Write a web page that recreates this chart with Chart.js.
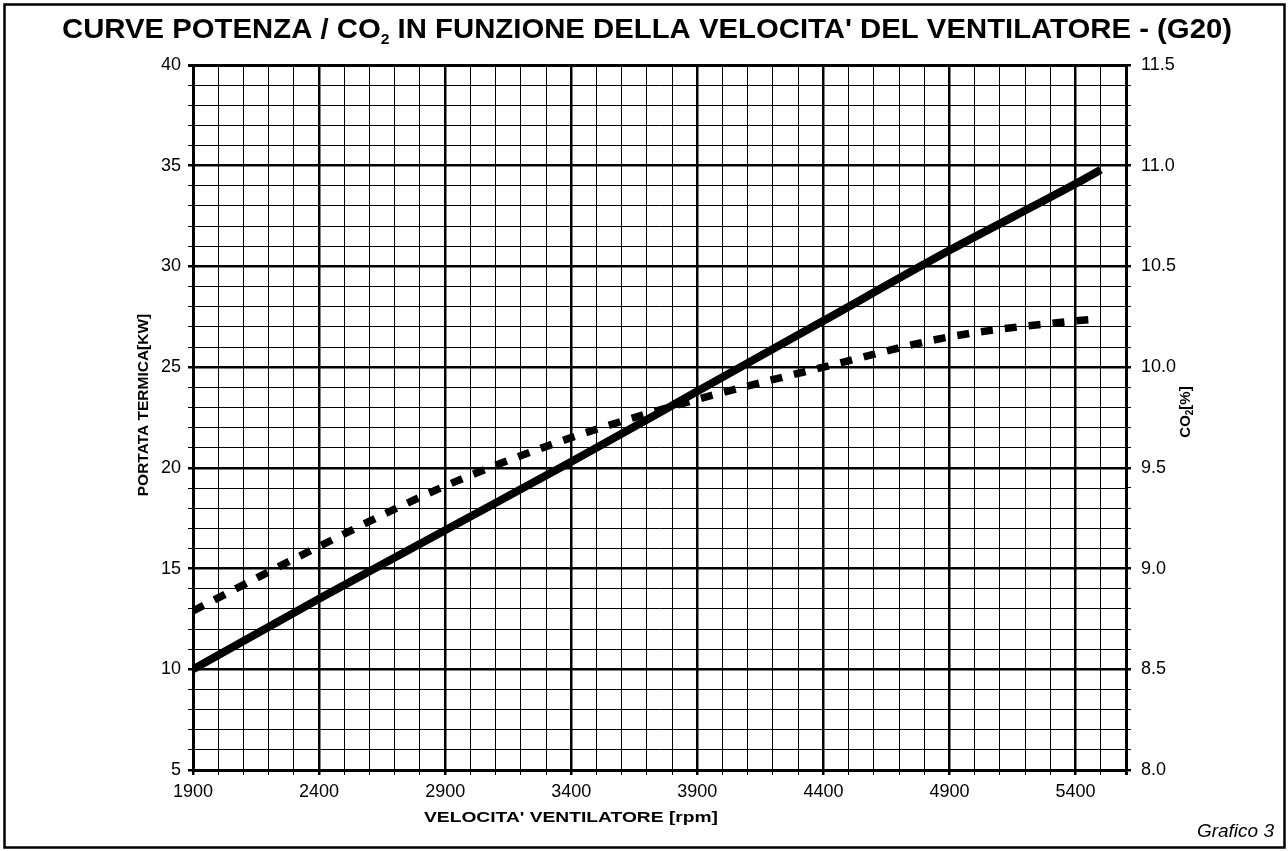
<!DOCTYPE html>
<html>
<head>
<meta charset="utf-8">
<script src="https://cdn.jsdelivr.net/npm/chart.js@4/dist/chart.umd.min.js"></script>
<style>
  html, body { margin: 0; padding: 0; background: #fff; }
  #wrap { width: 1288px; height: 851px; }
</style>
</head>
<body>
<div id="wrap"><canvas id="c" width="1288" height="851"></canvas></div>
<script>
// Fan speed (rpm) and the two measured curves
const rpm     = [1900, 2400, 2900, 3400, 3900, 4400, 4900, 5400, 5500];
const potenza = [10.0, 13.5, 16.9, 20.3, 23.8, 27.3, 30.8, 34.1, 34.8];   // kW
const co2     = [8.79, 9.11, 9.41, 9.65, 9.84, 10.00, 10.15, 10.23, 10.24]; // %

// Axis limits and labelled tick steps
const xRange   = [1900, 5600];
const xLabelEvery = 500;
const yRange   = [5, 40];
const yLabelEvery = 5;
const y2Range  = [8.0, 11.5];
const y2LabelEvery = 0.5;

const titleParts = ['CURVE POTENZA / CO', '2', " IN FUNZIONE DELLA VELOCITA' DEL VENTILATORE - (G20)"];
const xTitle  = "VELOCITA' VENTILATORE [rpm]";
const yTitle  = 'PORTATA TERMICA[KW]';
const y2Title = ['CO', '2', '[%]'];
const footer  = 'Grafico 3';

const FONT = "'Liberation Sans', Arial, Helvetica, sans-serif";

const isMultiple = (v, base, step) => Math.abs((v - base) / step - Math.round((v - base) / step)) < 1e-6;

const toXY = (ys) => rpm.map((x, i) => ({ x, y: ys[i] }));

// Text with a lowered subscript piece; draws left to right from x
function drawSubText(ctx, parts, x, y, size, subSize, subDrop) {
  let cx = x;
  parts.forEach((p, i) => {
    const sub = i % 2 === 1;
    ctx.font = 'bold ' + (sub ? subSize : size) + 'px ' + FONT;
    ctx.fillText(p, cx, sub ? y + subDrop : y);
    cx += ctx.measureText(p).width;
  });
  return cx - x;
}
function measureSubText(ctx, parts, size, subSize) {
  let w = 0;
  parts.forEach((p, i) => {
    ctx.font = 'bold ' + (i % 2 === 1 ? subSize : size) + 'px ' + FONT;
    w += ctx.measureText(p).width;
  });
  return w;
}

const decorations = {
  id: 'decorations',
  beforeDraw(chart) {
    const ctx = chart.ctx;
    ctx.save();
    ctx.fillStyle = '#fff';
    ctx.fillRect(0, 0, chart.width, chart.height);
    ctx.restore();
  },
  afterDraw(chart) {
    const ctx = chart.ctx;
    ctx.save();
    ctx.fillStyle = '#000';
    ctx.strokeStyle = '#000';

    // outer frame
    ctx.lineWidth = 2.5;
    ctx.strokeRect(4.5, 4.5, 1280, 843);

    // main title, condensed to its box
    const tSize = 28, tSub = 15;
    const tw = measureSubText(ctx, titleParts, tSize, tSub);
    const target = 1170;
    const sx = target / tw;
    ctx.save();
    ctx.translate(647 - target / 2, 38);
    ctx.scale(sx, 1);
    ctx.textBaseline = 'alphabetic';
    ctx.textAlign = 'left';
    drawSubText(ctx, titleParts, 0, 0, tSize, tSub, 6);
    ctx.restore();

    // x axis title, stretched to its box
    ctx.save();
    ctx.font = 'bold 15px ' + FONT;
    ctx.textAlign = 'center';
    ctx.textBaseline = 'middle';
    const xw = ctx.measureText(xTitle).width;
    ctx.translate(571, 818);
    ctx.scale(294 / xw, 1);
    ctx.fillText(xTitle, 0, 0);
    ctx.restore();

    // left axis title
    ctx.save();
    ctx.translate(144, 405);
    ctx.rotate(-Math.PI / 2);
    ctx.font = 'bold 15.5px ' + FONT;
    ctx.textAlign = 'center';
    ctx.textBaseline = 'middle';
    ctx.fillText(yTitle, 0, 0);
    ctx.restore();

    // right axis title (with subscript)
    ctx.save();
    ctx.translate(1186, 412);
    ctx.rotate(-Math.PI / 2);
    ctx.textAlign = 'left';
    ctx.textBaseline = 'middle';
    const w2 = measureSubText(ctx, y2Title, 15, 10);
    drawSubText(ctx, y2Title, -w2 / 2, 0, 15, 10, 4);
    ctx.restore();

    // footer
    ctx.font = 'italic 19px ' + FONT;
    ctx.textAlign = 'right';
    ctx.textBaseline = 'alphabetic';
    ctx.fillText(footer, 1274, 837);

    ctx.restore();
  }
};

const majorW = 2.5, minorW = 1;

new Chart(document.getElementById('c'), {
  type: 'line',
  data: {
    datasets: [
      {
        label: 'Portata termica',
        data: toXY(potenza),
        yAxisID: 'y',
        borderColor: '#000',
        borderWidth: 8,
        pointRadius: 0,
        cubicInterpolationMode: 'monotone',
        borderCapStyle: 'butt'
      },
      {
        label: 'CO2',
        data: toXY(co2),
        yAxisID: 'y2',
        borderColor: '#000',
        borderWidth: 7.5,
        borderDash: [12, 12],
        pointRadius: 0,
        cubicInterpolationMode: 'monotone',
        borderCapStyle: 'butt'
      }
    ]
  },
  options: {
    responsive: false,
    animation: false,
    events: [],
    layout: { padding: { top: 65, left: 0, right: 0, bottom: 0 } },
    plugins: { legend: { display: false }, tooltip: { enabled: false }, title: { display: false } },
    scales: {
      x: {
        type: 'linear',
        position: 'bottom',
        min: xRange[0], max: xRange[1],
        afterFit: s => { s.height = 81; },
        ticks: {
          stepSize: 100, maxTicksLimit: 1000, autoSkip: false, maxRotation: 0, minRotation: 0,
          padding: 6, color: '#000',
          font: { family: FONT, size: 18 },
          callback: v => isMultiple(v, xRange[0], xLabelEvery) && v < xRange[1] ? String(v) : ''
        },
        grid: {
          color: '#000',
          tickLength: 5,
          lineWidth: c => {
            const v = c.tick ? c.tick.value : 0;
            if (v === xRange[1]) return 3;
            return isMultiple(v, xRange[0], xLabelEvery) ? majorW : minorW;
          }
        },
        border: { color: '#000', width: 3 }
      },
      y: {
        type: 'linear',
        position: 'left',
        min: yRange[0], max: yRange[1],
        afterFit: s => { s.width = 193; },
        ticks: {
          stepSize: 1, maxTicksLimit: 1000, autoSkip: false,
          padding: 7, color: '#000',
          font: { family: FONT, size: 18 },
          callback: v => isMultiple(v, 0, yLabelEvery) ? String(v) : ''
        },
        grid: {
          color: '#000',
          tickLength: 5,
          lineWidth: c => {
            const v = c.tick ? c.tick.value : 0;
            if (v === yRange[1]) return 3;
            return isMultiple(v, 0, yLabelEvery) ? majorW : minorW;
          }
        },
        border: { color: '#000', width: 3 }
      },
      y2: {
        type: 'linear',
        position: 'right',
        min: y2Range[0], max: y2Range[1],
        afterFit: s => { s.width = 1288 - 1126; },
        ticks: {
          stepSize: 0.1, maxTicksLimit: 1000, autoSkip: false,
          padding: 10, color: '#000',
          font: { family: FONT, size: 18 },
          callback: v => isMultiple(v, 0, y2LabelEvery) ? Number(v).toFixed(1) : ''
        },
        grid: {
          drawOnChartArea: false,
          color: '#000',
          tickLength: 5,
          lineWidth: c => {
            const v = c.tick ? c.tick.value : 0;
            return isMultiple(v, 0, y2LabelEvery) ? majorW : minorW;
          }
        },
        border: { color: '#000', width: 3 }
      }
    }
  },
  plugins: [decorations]
});
</script>
</body>
</html>
